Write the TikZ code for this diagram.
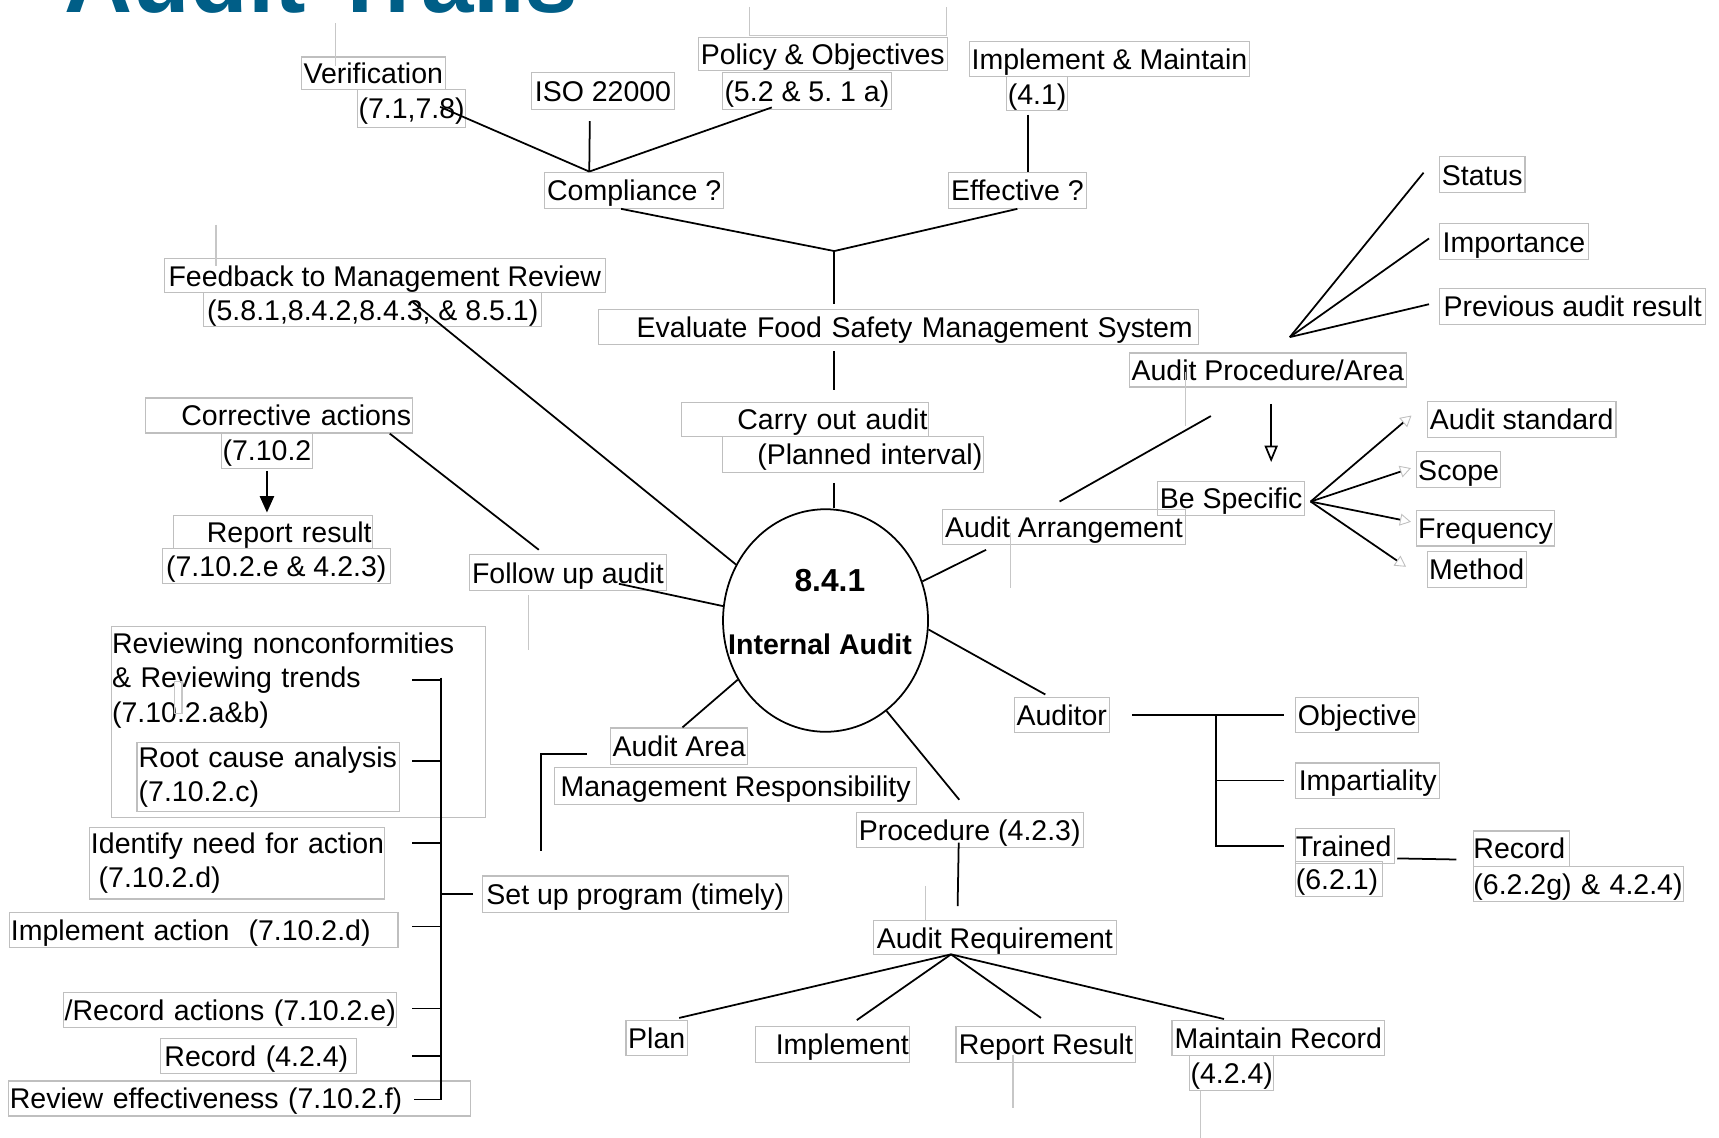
\documentclass[tikz,border=0pt]{standalone}
\usepackage{fontspec}
\setmainfont{Liberation Sans}
\usetikzlibrary{arrows.meta,shapes.geometric,calc}
\definecolor{titleblue}{RGB}{0,94,135}
\newcommand{\diagfont}{\fontsize{26}{31}\selectfont}

\begin{document}
\begin{tikzpicture}[x=1pt, y=-1pt, font=\diagfont,
  tb/.style={draw=black!25, line width=1pt, inner xsep=0pt, inner ysep=0pt, text height=22pt, text depth=3pt},
  tbm/.style={draw=black!25, line width=1pt, inner ysep=0pt},
  ln/.style={line width=1.6pt},
  ghost/.style={black!22, line width=1pt},
  fat/.style={-{Triangle[width=13pt,length=15pt]}},
  hollow/.style={-{Triangle[open,width=12pt,length=15pt]}},
  faint/.style={-{Triangle[open,width=11pt,length=10pt,color=black!25,line width=0.8pt]}}]
  \useasboundingbox (0,0) rectangle (1568,1038);
  \clip (0,0) rectangle (1568,1038);

  % title (cut off by the top edge)
  \node[anchor=base west, inner sep=0pt, text=titleblue, font=\fontsize{86}{90}\selectfont\bfseries] (title) at (59,11.6) {Audit Trails};

  % top branch
  \node[tb, minimum width=131pt, minimum height=30pt] (verif) at (340.5,67) {Verification};
  \node[tb, minimum width=99pt, minimum height=34pt] (verifno) at (375.5,99) {(7.1,7.8)};
  \node[tb, minimum width=130pt, minimum height=34pt] (iso) at (550,83) {ISO 22000};
  \node[tb, minimum width=227pt, minimum height=30pt] (policy) at (750.5,49) {Policy \& Objectives};
  \node[tb, minimum width=154pt, minimum height=34pt] (policyno) at (736,83) {(5.2 \& 5.\ 1 a)};
  \node[tb, minimum width=256pt, minimum height=32pt] (impl) at (1012,54) {Implement \& Maintain};
  \node[tb, minimum width=56pt, minimum height=31pt] (implno) at (946,85.5) {(4.1)};
  \node[tb, minimum width=163pt, minimum height=33pt] (comp) at (578.5,173.5) {Compliance ?};
  \node[tb, minimum width=126pt, minimum height=33pt] (eff) at (928,173.5) {Effective ?};
  \node[tb, text width=537pt, inner xsep=5pt, minimum height=32pt, align=right] (eval) at (819.5,298) {\mbox{Evaluate Food Safety Management System}};
  \node[tb, text width=223pt, inner xsep=1pt, minimum height=31pt, align=right] (carry) at (734.5,382.5) {\mbox{Carry out audit}};
  \node[tb, text width=236pt, inner xsep=1pt, minimum height=33pt, align=right] (planned) at (778,414.5) {\mbox{(Planned interval)}};

  % centre
  \node[draw, ellipse, line width=1.6pt, minimum width=187pt, minimum height=203pt, inner sep=0pt] (ia) at (753,566) {};
  \node[font=\fontsize{29}{31}\selectfont\bfseries] (ianum) at (757,530) {8.4.1};
  \node[font=\diagfont\bfseries] (iatxt) at (748,588) {Internal Audit};

  % left branch
  \node[tb, minimum width=402pt, minimum height=31pt] (fb) at (351,251.5) {Feedback to Management Review};
  \node[tb, minimum width=308pt, minimum height=31pt] (fbno) at (340,282.5) {(5.8.1,8.4.2,8.4.3, \& 8.5.1)};
  \node[tb, text width=241pt, inner xsep=1pt, minimum height=32pt, align=right] (corr) at (254.5,379) {\mbox{Corrective actions}};
  \node[tb, minimum width=83pt, minimum height=32pt] (corrno) at (243.5,411) {(7.10.2};
  \node[tb, text width=180pt, inner xsep=1pt, minimum height=30pt, align=right] (rep) at (249,485) {\mbox{Report result}};
  \node[tb, minimum width=208pt, minimum height=32pt] (repno) at (252,516) {(7.10.2.e \& 4.2.3)};
  \node[tb, minimum width=180pt, minimum height=33pt] (fol) at (518,522.5) {Follow up audit};

  % right branch
  \node[tb, minimum width=253pt, minimum height=31pt] (proc) at (1156.5,337.5) {Audit Procedure/Area};
  \node[tb, minimum width=78pt, minimum height=33pt] (status) at (1352,159.5) {Status};
  \node[tb, minimum width=136pt, minimum height=33pt] (imp) at (1381,220.5) {Importance};
  \node[tb, minimum width=243pt, minimum height=33pt] (prev) at (1434.5,279.5) {Previous audit result};
  \node[tb, minimum width=221pt, minimum height=32pt] (arr) at (970.5,481) {Audit Arrangement};
  \node[tb, minimum width=134pt, minimum height=31pt] (spec) at (1123,454.5) {Be Specific};
  \node[tb, minimum width=172pt, minimum height=33pt] (astd) at (1388,382.5) {Audit standard};
  \node[tb, minimum width=77pt, minimum height=33pt] (scope) at (1330.5,428.5) {Scope};
  \node[tb, minimum width=126pt, minimum height=32pt] (freq) at (1355,482) {Frequency};
  \node[tb, minimum width=90pt, minimum height=33pt] (meth) at (1347,519.5) {Method};

  % auditor
  \node[tb, minimum width=87pt, minimum height=32pt] (aud) at (968.5,652) {Auditor};
  \node[tb, minimum width=112pt, minimum height=32pt] (obj) at (1238,652) {Objective};
  \node[tb, minimum width=131pt, minimum height=32pt] (impa) at (1247.5,712) {Impartiality};
  \node[tb, text width=90pt, minimum height=32pt, align=left] (trn) at (1227,772) {\mbox{Trained}};
  \node[tb, text width=79pt, minimum height=32pt, align=left] (trnno) at (1221.5,802) {\mbox{(6.2.1)}};
  \node[tb, text width=88pt, minimum height=32pt, align=left] (rec) at (1388,774) {\mbox{Record}};
  \node[tb, text width=192pt, minimum height=32pt, align=left] (recno) at (1440,806) {\mbox{(6.2.2g) \& 4.2.4)}};

  % bottom branch
  \node[tb, minimum width=125pt, minimum height=33pt] (area) at (619.5,680.5) {Audit Area};
  \node[tb, minimum width=330pt, minimum height=34pt] (mgmt) at (671,717) {Management Responsibility};
  \node[tb, minimum width=207pt, minimum height=32pt] (procd) at (884.5,757) {Procedure (4.2.3)};
  \node[tb, minimum width=221pt, minimum height=31pt] (req) at (907.5,855.5) {Audit Requirement};
  \node[tb, minimum width=56pt, minimum height=32pt] (plan) at (599,947) {Plan};
  \node[tb, text width=139pt, inner xsep=1pt, minimum height=33pt, align=right] (implm) at (759.5,952.5) {\mbox{Implement}};
  \node[tb, minimum width=164pt, minimum height=33pt] (rres) at (954,952.5) {Report Result};
  \node[tb, minimum width=194pt, minimum height=32pt] (mrec) at (1166,947) {Maintain Record};
  \node[tb, minimum width=77pt, minimum height=32pt] (mrecno) at (1123.5,979) {(4.2.4)};
  \node[tb, minimum width=279pt, minimum height=33pt] (setup) at (579.5,815.5) {Set up program (timely)};

  % corrective action list
  \node[tbm, minimum width=341pt, minimum height=174pt, anchor=north west, inner sep=0pt] (revbox) at (101,571) {};
  \node[anchor=base west, inner sep=0pt, text width=330pt, align=left, font=\fontsize{26}{31.5}\selectfont] (rev) at (102,596) {\mbox{Reviewing nonconformities}\\\mbox{\& Reviewing trends}\\\mbox{(7.10.2.a\&b)}};
  \node[tbm, text width=236pt, inner xsep=1.5pt, minimum height=63pt, align=left] (root) at (244.5,708.5) {\mbox{Root cause analysis}\\\mbox{(7.10.2.c)}};
  \node[tbm, text width=267pt, inner xsep=1pt, minimum height=65pt, align=left] (ident) at (216.5,787.5) {\mbox{Identify need for action}\\\mbox{\hspace*{7pt}(7.10.2.d)}};
  \node[tb, text width=352pt, inner xsep=1pt, minimum height=32pt, align=left] (implact) at (186,848) {\mbox{Implement action~ (7.10.2.d)}};
  \node[tb, text width=302pt, inner xsep=1pt, minimum height=32pt, align=left] (recact) at (210,921) {\mbox{/Record actions (7.10.2.e)}};
  \node[tb, text width=171pt, inner xsep=4pt, minimum height=32pt, align=left] (rec424) at (235.5,963) {\mbox{Record (4.2.4)}};
  \node[tb, text width=419pt, inner xsep=1pt, minimum height=32pt, align=left] (reveff) at (218.5,1002) {\mbox{Review effectiveness (7.10.2.f)}};

  % junctions
  \coordinate (cj) at ($(comp.north west)+(41,0)$);
  \coordinate (ij) at ($(implno.south)+(-8,3)$);
  \coordinate (ej) at (761,229);
  \coordinate (pj) at ($(proc.north west)+(147,-14)$);
  \coordinate (pa) at ($(proc.south west)+(130,15)$);
  \coordinate (sj) at ($(spec.east)+(5,3)$);
  \coordinate (aj) at ($(obj.west)+(-72,0)$);
  \coordinate (rj) at ($(req.south west)+(71,-1)$);
  \coordinate (bustop) at (402,618);
  \coordinate (busbot) at (402,1003);

  % top connectors
  \draw[ln] ($(verifno.east)+(-24,-1.5)$) -- (cj);
  \draw[ln] ($(iso.south)+(-12,10)$) -- (cj);
  \draw[ln] ($(policyno.south)+(-32,-2.5)$) -- (cj);
  \draw[ln] (ij) -- (ij |- eff.north);
  \draw[ln] ($(comp.south)+(-12,0)$) -- (ej);
  \draw[ln] (eff.south) -- (ej);
  \draw[ln] (ej) -- ($(ej |- eval.north)+(0,-4)$);
  \draw[ln] ($(ej |- eval.south)+(0,6)$) -- ($(ej |- carry.north)+(0,-11)$);
  \draw[ln] ($(ej |- planned.south)+(0,9)$) -- (ej |- ia.north);

  % left connectors
  \draw[ln] ($(fbno.north west)+(191,9)$) -- (ia.148);
  \draw[ln] ($(corr.south east)+(-21,0)$) -- ($(fol.north west)+(64,-4)$);
  \draw[ln] ($(fol.south west)+(137,-7)$) -- (ia.172);
  \draw[ln, fat] ($(corrno.south)+(0,2)$) -- ($(corrno.south |- rep.north)+(0,-2)$);

  % right connectors
  \draw[ln] (pj) -- ($(status.west)+(-14,-2)$);
  \draw[ln] (pj) -- ($(imp.west)+(-9,-3)$);
  \draw[ln] (pj) -- ($(prev.west)+(-9,-2)$);
  \draw[ln, hollow] (pa) -- ($(pa |- spec.north)+(0,-17)$);
  \draw[ln] ($(arr.north west)+(107,-7)$) -- ($(proc.south west)+(75,26)$);
  \draw[ln] ($(arr.south west)+(40,4)$) -- (ia.22);
  \draw[ln, faint] (sj) -- ($(astd.west)+(-14,-3.5)$);
  \draw[ln, faint] (sj) -- ($(scope.west)+(-4.5,-1.5)$);
  \draw[ln, faint] (sj) -- ($(freq.west)+(-4.5,-6)$);
  \draw[ln, faint] (sj) -- ($(meth.west)+(-19,-2.5)$);

  % auditor connectors
  \draw[ln] (ia.-5) -- ($(aud.north west)+(29,-2)$);
  \draw[ln] ($(aud.east)+(20,0)$) -- ($(obj.west)+(-10,0)$);
  \draw[ln] (aj) |- ($(trn.west)+(-10,0)$);
  \draw[ln] (aj |- impa) -- ($(impa.west)+(-10,0)$);
  \draw[ln] ($(trn.east)+(2,11)$) -- ($(rec.west)+(-15,10)$);

  % bottom connectors
  \draw[ln] (ia.214) -- ($(area.north west)+(66,0)$);
  \draw[ln] ($(area.west)+(-21,7)$) -| ($(setup.north west)+(54,-22)$);
  \draw[ln] (ia.-56) -- ($(procd.north west)+(94.5,-11)$);
  \draw[ln] ($(procd.south west)+(94,-5)$) -- ($(req.north west)+(77,-13)$);
  \draw[ln] (rj) -- ($(plan.north east)+(-8,-2)$);
  \draw[ln] (rj) -- ($(implm.north west)+(93,-5)$);
  \draw[ln] (rj) -- ($(rres.north west)+(78,-7)$);
  \draw[ln] (rj) -- ($(mrec.north west)+(48,-1)$);

  % bracket of the list
  \draw[ln] (bustop) -- (busbot) -- (378,1003);
  \foreach \y in {620,694,769,845,920,963}
    \draw[ln] (376,\y) -- (403,\y);
  \draw[ln] (bustop |- setup) -- ($(setup.west)+(-8,0)$);

  % faint leftovers of the slide
  \draw[ghost] (306,21) -- (306,60);
  \draw[ghost] (684,6) |- (863,32) -- (863,6);
  \draw[ghost] (197,205) -- (197,243);
  \draw[ghost] (1081,339) -- (1081,389);
  \draw[ghost] (922,486) -- (922,536);
  \draw[ghost] (482,543) -- (482,593);
  \draw[ghost] (844,808) -- (844,839);
  \draw[ghost] (924,962) -- (924,1011);
  \draw[ghost] (1095,995) -- (1095,1038);
  \draw[ghost] (159,622) rectangle (166,651);
\end{tikzpicture}
\end{document}
